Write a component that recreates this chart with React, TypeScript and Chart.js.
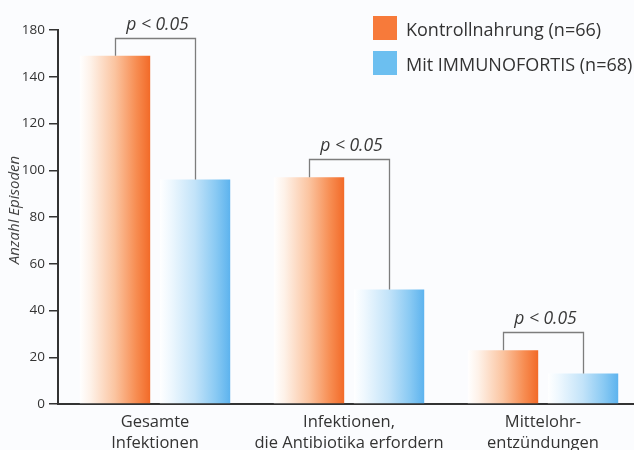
import { useEffect, useRef } from "react";
import { Chart, registerables } from "chart.js";

Chart.register(...registerables);

const categories = [
  ["Gesamte", "Infektionen"],
  ["Infektionen,", "die Antibiotika erfordern"],
  ["Mittelohr-", "entzündungen"],
];
const kontrollValues = [149, 97, 23];
const immunoValues = [96, 49, 13];
const seriesLabels = ["Kontrollnahrung (n=66)", "Mit IMMUNOFORTIS (n=68)"];
const yTickLabels = ["0", "20", "40", "60", "80", "100", "120", "140", "180"];
const pLabels = ["p < 0.05", "p < 0.05", "p < 0.05"];
const yTitle = "Anzahl Episoden";

const FONT = "'Open Sans', 'Noto Sans', sans-serif";
const TEXT = "#333333";
const legendColors = ["#f77a3a", "#6cbff0"];
const gradientStops: [number, string][][] = [
  [
    [0, "#ffffff"],
    [0.15, "#fef2e9"],
    [0.5, "#fbc4a0"],
    [0.8, "#f78d52"],
    [1, "#f26a28"],
  ],
  [
    [0, "#ffffff"],
    [0.15, "#eff8fe"],
    [0.5, "#c2e3f9"],
    [0.8, "#88c9f3"],
    [1, "#5db3ee"],
  ],
];

const gradientPlugin = {
  id: "barGradient",
  beforeDatasetsDraw(chart: any) {
    const ctx = chart.ctx;
    chart.data.datasets.forEach((_ds: any, di: number) => {
      const meta = chart.getDatasetMeta(di);
      meta.data.forEach((el: any) => {
        const { x, width } = el.getProps(["x", "width"], true);
        const left = x - width / 2;
        const g = ctx.createLinearGradient(left, 0, left + width, 0);
        gradientStops[di].forEach(([o, c]) => g.addColorStop(o, c));
        el.options = Object.assign({}, el.options, { backgroundColor: g });
      });
    });
  },
};

const bracketPlugin = {
  id: "brackets",
  afterDatasetsDraw(chart: any) {
    const ctx = chart.ctx;
    const m0 = chart.getDatasetMeta(0);
    const m1 = chart.getDatasetMeta(1);
    ctx.save();
    pLabels.forEach((label, i) => {
      const a = m0.data[i];
      const b = m1.data[i];
      if (!a || !b) return;
      const by = Math.min(a.y, b.y) - 18;
      const ax = Math.round(a.x) + 0.5;
      const bx = Math.round(b.x) + 0.5;
      const yy = Math.round(by) + 0.5;
      ctx.strokeStyle = "#7d7d7d";
      ctx.lineWidth = 1.3;
      ctx.beginPath();
      ctx.moveTo(ax, a.y);
      ctx.lineTo(ax, yy);
      ctx.lineTo(bx, yy);
      ctx.lineTo(bx, b.y);
      ctx.stroke();
      ctx.fillStyle = "#3a3a3a";
      ctx.font = `italic 17.5px ${FONT}`;
      ctx.textAlign = "center";
      ctx.textBaseline = "alphabetic";
      ctx.fillText(label, (ax + bx) / 2 + 2, yy - 9);
    });
    ctx.restore();
  },
};

const legendPlugin = {
  id: "customLegend",
  afterDraw(chart: any) {
    const ctx = chart.ctx;
    ctx.save();
    chart.data.datasets.forEach((ds: any, i: number) => {
      const top = 16 + i * 35;
      ctx.fillStyle = legendColors[i];
      ctx.fillRect(373, top, 24, 24);
      ctx.fillStyle = TEXT;
      ctx.font = `18px ${FONT}`;
      ctx.textAlign = "left";
      ctx.textBaseline = "alphabetic";
      ctx.fillText(ds.label, 406, top + 20);
    });
    // y-axis title
    ctx.translate(15, 210);
    ctx.rotate(-Math.PI / 2);
    ctx.fillStyle = "#444444";
    ctx.font = `italic 15px ${FONT}`;
    ctx.textAlign = "center";
    ctx.textBaseline = "middle";
    ctx.fillText(yTitle, 0, 0);
    ctx.restore();
  },
};

export default function App() {
  const ref = useRef<HTMLCanvasElement>(null);
  useEffect(() => {
    document.body.style.margin = "0";
    const chart = new Chart(ref.current as HTMLCanvasElement, {
      type: "bar",
      data: {
        labels: categories,
        datasets: [
          {
            label: seriesLabels[0],
            data: kontrollValues,
            backgroundColor: legendColors[0],
            borderWidth: 0,
            barPercentage: 0.88,
            categoryPercentage: 0.825,
          },
          {
            label: seriesLabels[1],
            data: immunoValues,
            backgroundColor: legendColors[1],
            borderWidth: 0,
            barPercentage: 0.88,
            categoryPercentage: 0.825,
          },
        ],
      },
      options: {
        responsive: false,
        maintainAspectRatio: false,
        animation: false,
        layout: { padding: { top: 30, right: 10, left: 0, bottom: 0 } },
        plugins: {
          legend: { display: false },
          tooltip: { enabled: false },
        },
        scales: {
          x: {
            offset: true,
            grid: { display: false, drawTicks: false },
            border: { display: true, color: TEXT, width: 2 },
            ticks: {
              color: TEXT,
              font: { family: FONT, size: 16.5, lineHeight: 1.25 },
              padding: 8,
              maxRotation: 0,
              autoSkip: false,
            },
            afterFit: (s: any) => {
              s.height = 46;
            },
          },
          y: {
            min: 0,
            max: 160,
            ticks: {
              stepSize: 20,
              color: TEXT,
              font: { family: FONT, size: 13.5 },
              padding: 4,
              callback: (_v: any, i: number) => yTickLabels[i],
            },
            grid: {
              display: true,
              drawOnChartArea: false,
              drawTicks: true,
              tickLength: 9,
              color: TEXT,
              lineWidth: 1.5,
            },
            border: { display: true, color: TEXT, width: 2 },
            title: { display: false },
            afterFit: (s: any) => {
              s.width = 58;
            },
          },
        },
      },
      plugins: [gradientPlugin, bracketPlugin, legendPlugin],
    } as any);
    return () => chart.destroy();
  }, []);
  return (
    <div
      style={{
        width: 634,
        height: 450,
        overflow: "hidden",
        position: "relative",
        background: "#fbfcfe",
      }}
    >
      <canvas
        ref={ref}
        width={650}
        height={450}
        style={{ display: "block", width: 650, height: 450 }}
      />
    </div>
  );
}
